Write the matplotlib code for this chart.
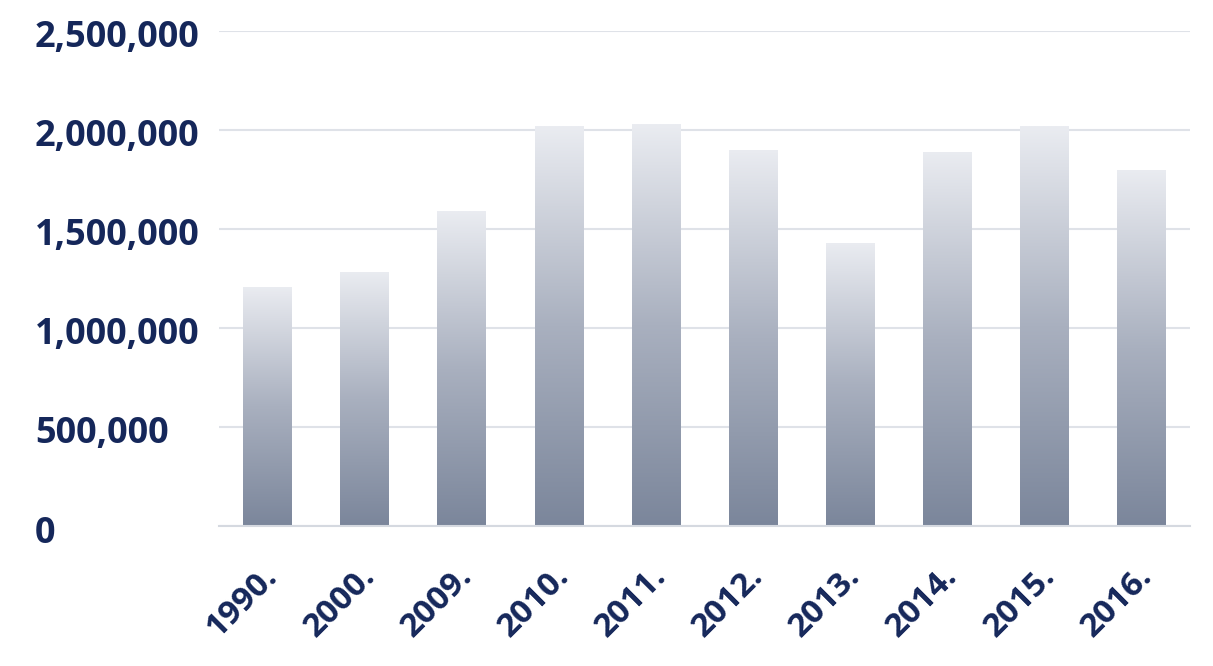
import matplotlib
matplotlib.use("Agg")
import matplotlib.pyplot as plt
import matplotlib.transforms as mtransforms
import numpy as np
from matplotlib.colors import LinearSegmentedColormap
from matplotlib.ticker import FuncFormatter

years = ["1990.", "2000.", "2009.", "2010.", "2011.", "2012.", "2013.", "2014.", "2015.", "2016."]
values = [1207000, 1283000, 1590000, 2020000, 2030000, 1900000, 1430000, 1890000, 2020000, 1800000]
yticks = [0, 500000, 1000000, 1500000, 2000000, 2500000]

navy = "#15275a"
plt.rcParams['font.family'] = ['Open Sans', 'DejaVu Sans']

fig = plt.figure(figsize=(12.13, 6.66), dpi=100)
ax = fig.add_axes([0.1805, 0.2102, 0.8005, 0.7433])

x = np.arange(len(years))
bars = ax.bar(x, values, width=0.5, color="none", edgecolor="none", zorder=2)

# vertical gradient in each bar, light on top, slate at the bottom
cmap = LinearSegmentedColormap.from_list("g", ["#7b869b", "#a9b0bf", "#eaecf1"])
grad = np.linspace(0, 1, 256).reshape(-1, 1)
for b in bars:
    x0, y0 = b.get_x(), b.get_y()
    im = ax.imshow(grad, cmap=cmap, origin="lower", aspect="auto",
                   extent=[x0, x0 + b.get_width(), y0, y0 + b.get_height()], zorder=2)
    im.set_clip_path(b)

ax.set_xlim(-0.5, len(years) - 0.5)
ax.set_ylim(0, 2500000)
ax.set_yticks(yticks)
ax.yaxis.set_major_formatter(FuncFormatter(lambda v, p: f"{int(v):,}"))
ax.set_xticks(x)
ax.set_xticklabels(years, rotation=45, ha="right", va="top", rotation_mode="anchor")

ax.grid(axis="y", color="#dfe2e8", linewidth=1.5, zorder=0)
ax.set_axisbelow(True)
for s in ["top", "right", "left"]:
    ax.spines[s].set_visible(False)
ax.spines["bottom"].set_color("#d5d9e0")
ax.spines["bottom"].set_linewidth(1.5)
ax.tick_params(axis="both", length=0, labelcolor=navy, labelsize=26)
ax.tick_params(axis="y", pad=132.5)
ax.tick_params(axis="x", pad=24, labelsize=24)
yshift = mtransforms.ScaledTranslation(0, -3 / 100, fig.dpi_scale_trans)
for t in ax.get_yticklabels():
    t.set_fontweight("bold")
    t.set_horizontalalignment("left")
    t.set_transform(t.get_transform() + yshift)
shift = mtransforms.ScaledTranslation(-6 / 100, 0, fig.dpi_scale_trans)
for t in ax.get_xticklabels():
    t.set_fontweight("bold")
    t.set_transform(t.get_transform() + shift)

fig.savefig("out.png", dpi=100, facecolor="white")
